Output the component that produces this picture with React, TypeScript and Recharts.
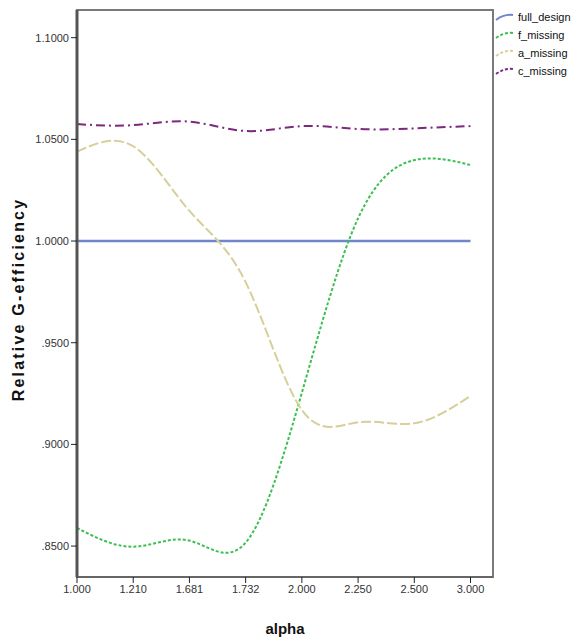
import React from 'react';
import {
  LineChart,
  Line,
  XAxis,
  YAxis,
  Legend,
  ReferenceArea,
} from 'recharts';

// alpha levels (categorical, evenly spaced on the axis)
const ALPHA = ['1.000', '1.210', '1.681', '1.732', '2.000', '2.250', '2.500', '3.000'];

// relative G-efficiency
const FULL_DESIGN = [1.0, 1.0, 1.0, 1.0, 1.0, 1.0, 1.0, 1.0];
const F_MISSING = [0.8589, 0.8497, 0.8527, 0.8517, 0.9254, 1.0112, 1.0398, 1.0374];
const A_MISSING = [1.0439, 1.0466, 1.0148, 0.9798, 0.9169, 0.9109, 0.9104, 0.9238];
const C_MISSING = [1.0575, 1.057, 1.0587, 1.0541, 1.0565, 1.0551, 1.0554, 1.0565];

const Y_TICKS = [0.85, 0.9, 0.95, 1.0, 1.05, 1.1];
const Y_DOMAIN: [number, number] = [0.8348, 1.1136];
const X_MAX = 7.4;

const SERIES = [
  { key: 'full_design', color: '#6f86c9', dash: undefined, width: 2.5 },
  { key: 'f_missing', color: '#3cbf50', dash: '3 2', width: 2 },
  { key: 'a_missing', color: '#d6cf99', dash: '10 3', width: 2 },
  { key: 'c_missing', color: '#7c287d', dash: '9 4 2 4', width: 2 },
];

const data = ALPHA.map((_, i) => ({
  i,
  full_design: FULL_DESIGN[i],
  f_missing: F_MISSING[i],
  a_missing: A_MISSING[i],
  c_missing: C_MISSING[i],
}));

const FONT = '"Liberation Sans", Arial, sans-serif';

const fmtY = (v: number) => {
  const s = v.toFixed(4);
  return v < 1 ? s.replace(/^0/, '') : s;
};

const LegendBox = () => (
  <div style={{ fontFamily: FONT, fontSize: 11, color: '#111' }}>
    {SERIES.map((s) => (
      <div key={s.key} style={{ display: 'flex', alignItems: 'center', height: 18 }}>
        <svg width={20} height={10} style={{ marginRight: 3 }}>
          <path
            d="M1,8 Q9,2 18,3"
            fill="none"
            stroke={s.color}
            strokeWidth={2}
            strokeDasharray={s.dash ? '3 2' : undefined}
          />
        </svg>
        <span>{s.key}</span>
      </div>
    ))}
  </div>
);

const YLabel = (props: any) => {
  const vb = props.viewBox || {};
  const x = 18;
  const y = (vb.y ?? 10) + (vb.height ?? 567) / 2 + 6;
  return (
    <text
      x={x}
      y={y}
      transform={`rotate(-90, ${x}, ${y})`}
      textAnchor="middle"
      dominantBaseline="central"
      fontFamily={FONT}
      fontWeight="bold"
      fontSize={16}
      letterSpacing={2.2}
      fill="#111"
    >
      Relative G-efficiency
    </text>
  );
};

export default function App() {
  return (
    <div style={{ position: 'absolute', left: 0, top: 0, background: '#fff' }}>
      <LineChart
        width={575}
        height={638}
        data={data}
        margin={{ top: 10, right: 82, left: 0, bottom: 0 }}
      >
        <XAxis
          dataKey="i"
          type="number"
          domain={[0, X_MAX]}
          ticks={[0, 1, 2, 3, 4, 5, 6, 7]}
          allowDataOverflow
          tickFormatter={(v: number) => ALPHA[v]}
          height={61}
          tickSize={6}
          tickLine={{ stroke: '#222' }}
          axisLine={{ stroke: '#666', strokeWidth: 2 }}
          tick={{ fontSize: 11, fill: '#333', fontFamily: FONT }}
          label={{
            value: 'alpha',
            position: 'insideBottom',
            offset: 4,
            style: { fontWeight: 'bold', fontSize: 15, fill: '#111', fontFamily: FONT },
          }}
        />
        <YAxis
          type="number"
          domain={Y_DOMAIN}
          ticks={Y_TICKS}
          allowDataOverflow
          width={77}
          tickFormatter={fmtY}
          tickSize={6}
          tickLine={{ stroke: '#222' }}
          axisLine={{ stroke: '#555', strokeWidth: 3 }}
          tick={{ fontSize: 11, fill: '#333', fontFamily: FONT }}
          label={<YLabel />}
        />
        <ReferenceArea
          x1={0}
          x2={X_MAX}
          y1={Y_DOMAIN[0]}
          y2={Y_DOMAIN[1]}
          fill="none"
          fillOpacity={0}
          stroke="#7a7a7a"
          strokeWidth={2}
          ifOverflow="visible"
        />
        <Legend
          layout="vertical"
          align="center"
          verticalAlign="middle"
          wrapperStyle={{ left: 495, top: 8, width: 80 }}
          content={<LegendBox />}
        />
        {SERIES.map((s) => (
          <Line
            key={s.key}
            dataKey={s.key}
            type="natural"
            stroke={s.color}
            strokeWidth={s.width}
            strokeDasharray={s.dash}
            dot={false}
            activeDot={false}
            isAnimationActive={false}
          />
        ))}
      </LineChart>
    </div>
  );
}
